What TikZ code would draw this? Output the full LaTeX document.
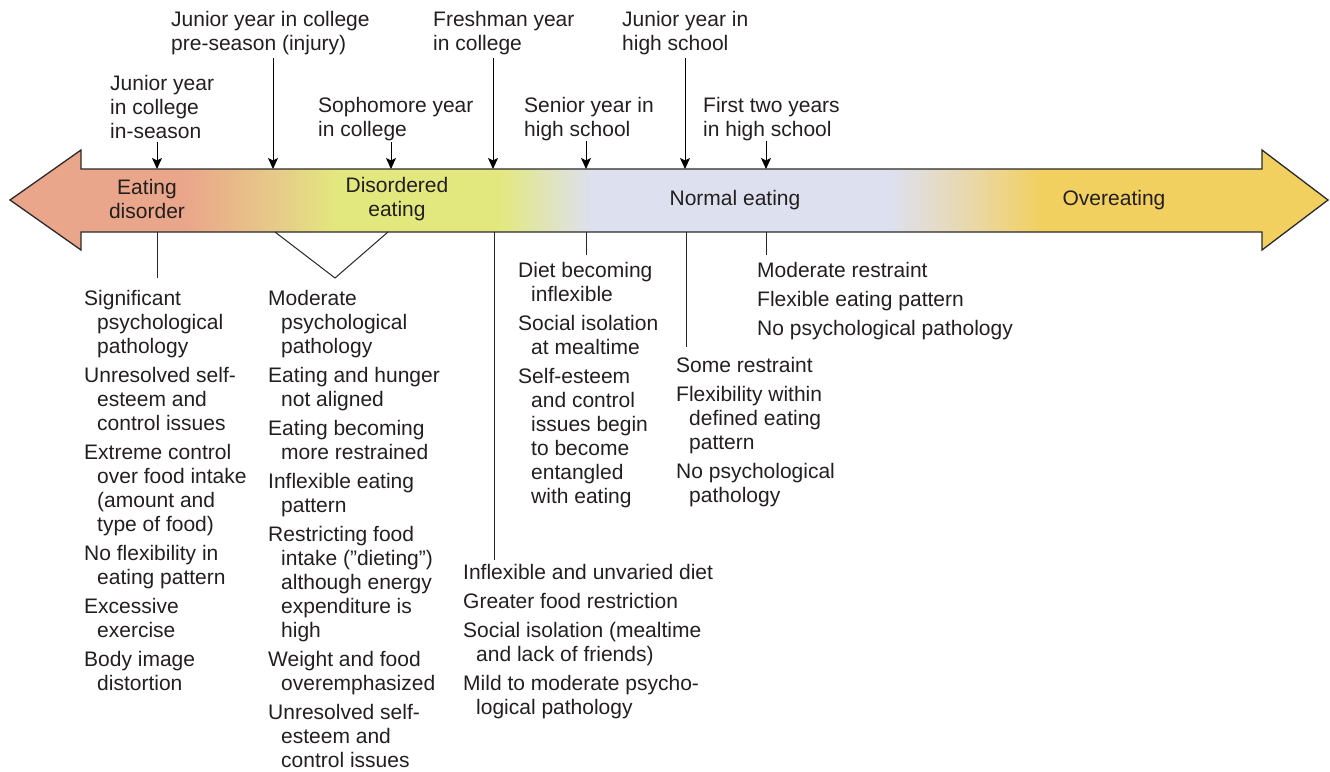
\documentclass[tikz,border=0pt]{standalone}
\usepackage{fontspec}
\setmainfont{Liberation Sans}
\usetikzlibrary{arrows.meta}
\definecolor{csalmon}{HTML}{EAA68A}
\definecolor{ctan}{HTML}{E6CC88}
\definecolor{cygreen}{HTML}{E3E87E}
\definecolor{clav}{HTML}{DDE0EF}
\definecolor{cbeige}{HTML}{E9D8AE}
\definecolor{cgold}{HTML}{F2D060}
\definecolor{ink}{HTML}{231F20}
\definecolor{edge}{HTML}{2A2A2A}
\newcommand\colbox[1]{\parbox[t]{380pt}{\setlength\parindent{0pt}\setlength\parskip{5pt}\fontsize{21}{24}\selectfont #1}}
\newcommand\hi{\par\hangindent=13pt\hangafter=1 }
\tikzset{
  txt/.style={anchor=base west, inner sep=0pt, text=ink},
  band/.style={font=\fontsize{21}{24}\selectfont, text=ink, align=center, inner sep=0pt},
  yeararrow/.style={draw=black, line width=1pt, -{Stealth[length=11pt,width=10pt,inset=2.5pt]}},
  tickline/.style={draw=black!85, line width=1pt},
}
\begin{document}
\begin{tikzpicture}[x=1pt,y=-1pt]
\useasboundingbox (0,0) rectangle (1330,771);
% big double arrow
\begin{scope}
\clip (10,200) -- (81,150) -- (81,169) -- (1262,169) -- (1262,150) -- (1328,200) -- (1262,250) -- (1262,232) -- (81,232) -- (81,250) -- cycle;
\fill[csalmon] (0,150) rectangle (186,250);
\shade[left color=csalmon, right color=ctan] (185,150) rectangle (281,250);
\shade[left color=ctan, right color=cygreen] (280,150) rectangle (336,250);
\fill[cygreen] (335,150) rectangle (501,250);
\shade[left color=cygreen, right color=clav] (500,150) rectangle (591,250);
\fill[clav] (590,150) rectangle (891,250);
\shade[left color=clav, right color=cbeige] (890,150) rectangle (966,250);
\shade[left color=cbeige, right color=cgold] (965,150) rectangle (1041,250);
\fill[cgold] (1040,150) rectangle (1330,250);
\end{scope}
\draw[edge, line width=1.3pt, line join=miter] (10,200) -- (81,150) -- (81,169) -- (1262,169) -- (1262,150) -- (1328,200) -- (1262,250) -- (1262,232) -- (81,232) -- (81,250) -- cycle;

% band labels
\node[band] (ed) at (147,199) {Eating\\disorder};
\node[band] (de) at (397,199) {Disordered\\eating};
\node[band] (ne) at (735,200) {Normal eating};
\node[band] (oe) at (1114,200) {Overeating};

% top labels
\node[txt] (jcpre) at (171,27) {\colbox{Junior year in college\newline pre-season (injury)}};
\node[txt] (fresh) at (433,27) {\colbox{Freshman year\newline in college}};
\node[txt] (jhs) at (622,27) {\colbox{Junior year in\newline high school}};
\node[txt] (jcin) at (110,90) {\colbox{Junior year\newline in college\newline in-season}};
\node[txt] (soph) at (318,112) {\colbox{Sophomore year\newline in college}};
\node[txt] (sen) at (524,112) {\colbox{Senior year in\newline high school}};
\node[txt] (first) at (703,112) {\colbox{First two years\newline in high school}};

% arrow coordinates
\coordinate (a1s) at (157,142); \coordinate (a1e) at (157,169);
\coordinate (a2s) at (273,58);  \coordinate (a2e) at (273,169);
\coordinate (a3s) at (391,142); \coordinate (a3e) at (391,169);
\coordinate (a4s) at (493,58);  \coordinate (a4e) at (493,169);
\coordinate (a5s) at (586,141); \coordinate (a5e) at (586,169);
\coordinate (a6s) at (685,58);  \coordinate (a6e) at (685,169);
\coordinate (a7s) at (766,141); \coordinate (a7e) at (766,169);
\draw[yeararrow] (a1s) -- (a1e);
\draw[yeararrow] (a2s) -- (a2e);
\draw[yeararrow] (a3s) -- (a3e);
\draw[yeararrow] (a4s) -- (a4e);
\draw[yeararrow] (a5s) -- (a5e);
\draw[yeararrow] (a6s) -- (a6e);
\draw[yeararrow] (a7s) -- (a7e);

% lower ticks
\coordinate (b1s) at (157,232); \coordinate (b1e) at (157,278);
\coordinate (vl) at (275,232); \coordinate (vb) at (335,278); \coordinate (vr) at (388,232);
\coordinate (b3s) at (494,232); \coordinate (b3e) at (494,560);
\coordinate (b4s) at (586,232); \coordinate (b4e) at (586,255);
\coordinate (b5s) at (686,232); \coordinate (b5e) at (686,347);
\coordinate (b6s) at (766,232); \coordinate (b6e) at (766,255);
\draw[tickline] (b1s) -- (b1e);
\draw[tickline] (vl) -- (vb) -- (vr);
\draw[tickline] (b3s) -- (b3e);
\draw[tickline] (b4s) -- (b4e);
\draw[tickline] (b5s) -- (b5e);
\draw[tickline] (b6s) -- (b6e);

% lower columns
\node[txt] (c1) at (84,305) {\colbox{%
\hi Significant\newline psychological\newline pathology
\hi Unresolved self-\newline esteem and\newline control issues
\hi Extreme control\newline over food intake\newline (amount and\newline type of food)
\hi No flexibility in\newline eating pattern
\hi Excessive\newline exercise
\hi Body image\newline distortion}};
\node[txt] (c2) at (268,305) {\colbox{%
\hi Moderate\newline psychological\newline pathology
\hi Eating and hunger\newline not aligned
\hi Eating becoming\newline more restrained
\hi Inflexible eating\newline pattern
\hi Restricting food\newline intake (”dieting”)\newline although energy\newline expenditure is\newline high
\hi Weight and food\newline overemphasized
\hi Unresolved self-\newline esteem and\newline control issues}};
\node[txt] (c3) at (463,579) {\colbox{%
\hi Inflexible and unvaried diet
\hi Greater food restriction
\hi Social isolation (mealtime\newline and lack of friends)
\hi Mild to moderate psycho-\newline logical pathology}};
\node[txt] (c4) at (518,277) {\colbox{%
\hi Diet becoming\newline inflexible
\hi Social isolation\newline at mealtime
\hi Self-esteem\newline and control\newline issues begin\newline to become\newline entangled\newline with eating}};
\node[txt] (c5) at (676,372) {\colbox{%
\hi Some restraint
\hi Flexibility within\newline defined eating\newline pattern
\hi No psychological\newline pathology}};
\node[txt] (c6) at (757,277) {\colbox{%
\hi Moderate restraint
\hi Flexible eating pattern
\hi No psychological pathology}};
\end{tikzpicture}
\end{document}
